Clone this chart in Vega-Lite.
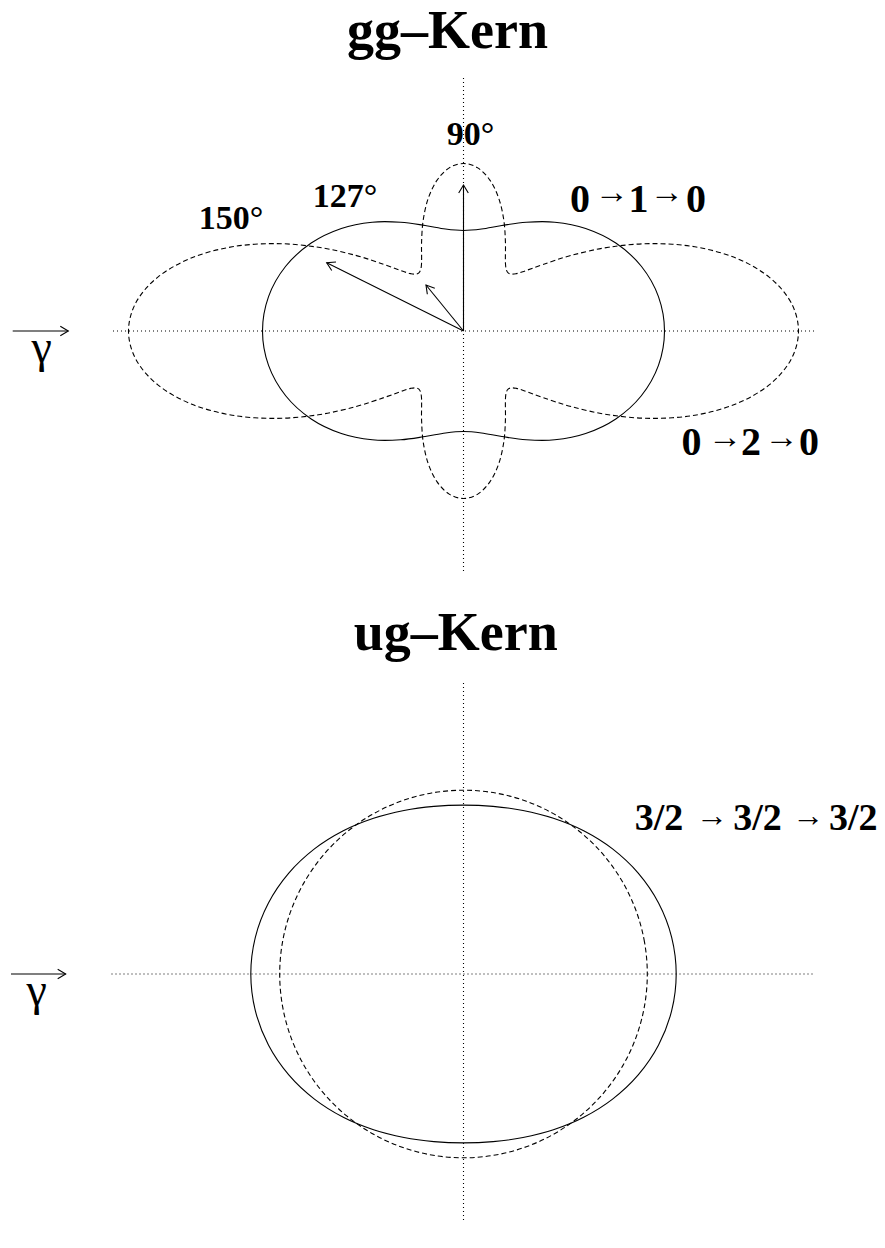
{
  "$schema": "https://vega.github.io/schema/vega-lite/v6.json",
  "background": "white",
  "padding": 0,
  "spacing": 0,
  "bounds": "flush",
  "config": {
    "view": {"stroke": null},
    "axis": {"disable": true},
    "text": {"font": "Liberation Serif", "color": "black"}
  },
  "datasets": {
    "gg_axes": [
      {"x0": -3.505, "y0": 0, "x": 3.52, "y": 0},
      {"x0": 0, "y0": 2.53, "x": 0, "y": -2.42}
    ],
    "ug_axes": [
      {"x0": -3.52, "y0": 0, "x": 3.51, "y": 0},
      {"x0": 0, "y0": 2.91, "x": 0, "y": -2.48}
    ],
    "gg_vec": [
      {"x0": 0, "y0": 0, "x": 0, "y": 1.46, "heading": 0},
      {"x0": 0, "y0": 0, "x": -1.368, "y": 0.683, "heading": 296.5},
      {"x0": 0, "y0": 0, "x": -0.375, "y": 0.46, "heading": 320.8},
      {"x0": -4.508, "y0": 0, "x": -3.952, "y": 0, "heading": 90}
    ],
    "ug_vec": [
      {"x0": -4.525, "y0": 0, "x": -3.978, "y": 0, "heading": 90}
    ],
    "gg_text": [
      {"t": "gg–Kern", "x": -0.16, "y": 2.83, "grp": "title"},
      {"t": "150°", "x": -2.325, "y": 1.017, "grp": "angle"},
      {"t": "127°", "x": -1.185, "y": 1.243, "grp": "angle"},
      {"t": "90°", "x": 0.07, "y": 1.86, "grp": "angle"},
      {"t": "0", "x": 1.165, "y": 1.193, "grp": "state"},
      {"t": "1", "x": 1.75, "y": 1.193, "grp": "state"},
      {"t": "0", "x": 2.325, "y": 1.193, "grp": "state"},
      {"t": "0", "x": 2.28, "y": -1.24, "grp": "state"},
      {"t": "2", "x": 2.875, "y": -1.24, "grp": "state"},
      {"t": "0", "x": 3.455, "y": -1.24, "grp": "state"},
      {"t": "→", "x": 1.482, "y": 1.38, "grp": "arrow"},
      {"t": "→", "x": 2.032, "y": 1.38, "grp": "arrow"},
      {"t": "→", "x": 2.615, "y": -1.07, "grp": "arrow"},
      {"t": "→", "x": 3.18, "y": -1.07, "grp": "arrow"},
      {"t": "γ", "x": -4.218, "y": -0.31, "grp": "gamma"}
    ],
    "ug_text": [
      {"t": "ug–Kern", "x": -0.077, "y": 3.24, "grp": "title"},
      {"t": "3/2", "x": 1.955, "y": 1.44, "grp": "state"},
      {"t": "3/2", "x": 2.94, "y": 1.44, "grp": "state"},
      {"t": "3/2", "x": 3.898, "y": 1.44, "grp": "state"},
      {"t": "→", "x": 2.482, "y": 1.58, "grp": "arrow"},
      {"t": "→", "x": 3.445, "y": 1.58, "grp": "arrow"},
      {"t": "γ", "x": -4.268, "y": -0.31, "grp": "gamma"}
    ],
    "gg_solid": [
      {"i": 0, "x": 2.010, "y": 0},
      {"i": 1, "x": 1.9496, "y": 0.3438},
      {"i": 2, "x": 1.7783, "y": 0.6472},
      {"i": 3, "x": 1.5231, "y": 0.8794},
      {"i": 4, "x": 1.2216, "y": 1.0251},
      {"i": 5, "x": 0.9129, "y": 1.0880},
      {"i": 6, "x": 0.6281, "y": 1.0880},
      {"i": 7, "x": 0.3839, "y": 1.0549},
      {"i": 8, "x": 0.1798, "y": 1.0196},
      {"i": 9, "x": 0, "y": 1.005},
      {"i": 10, "x": -0.1798, "y": 1.0196},
      {"i": 11, "x": -0.3839, "y": 1.0549},
      {"i": 12, "x": -0.6281, "y": 1.0880},
      {"i": 13, "x": -0.9129, "y": 1.0880},
      {"i": 14, "x": -1.2216, "y": 1.0251},
      {"i": 15, "x": -1.5231, "y": 0.8794},
      {"i": 16, "x": -1.7783, "y": 0.6472},
      {"i": 17, "x": -1.9496, "y": 0.3438},
      {"i": 18, "x": -2.010, "y": 0},
      {"i": 19, "x": -1.9496, "y": -0.3438},
      {"i": 20, "x": -1.7783, "y": -0.6472},
      {"i": 21, "x": -1.5231, "y": -0.8794},
      {"i": 22, "x": -1.2216, "y": -1.0251},
      {"i": 23, "x": -0.9129, "y": -1.0880},
      {"i": 24, "x": -0.6281, "y": -1.0880},
      {"i": 25, "x": -0.3839, "y": -1.0549},
      {"i": 26, "x": -0.1798, "y": -1.0196},
      {"i": 27, "x": 0, "y": -1.005},
      {"i": 28, "x": 0.1798, "y": -1.0196},
      {"i": 29, "x": 0.3839, "y": -1.0549},
      {"i": 30, "x": 0.6281, "y": -1.0880},
      {"i": 31, "x": 0.9129, "y": -1.0880},
      {"i": 32, "x": 1.2216, "y": -1.0251},
      {"i": 33, "x": 1.5231, "y": -0.8794},
      {"i": 34, "x": 1.7783, "y": -0.6472},
      {"i": 35, "x": 1.9496, "y": -0.3438}
    ],
    "gg_dashed": [
      {"i": 0, "x": 3.350, "y": 0},
      {"i": 1, "x": 3.2743, "y": 0.2865},
      {"i": 2, "x": 3.0565, "y": 0.5389},
      {"i": 3, "x": 2.7230, "y": 0.7296},
      {"i": 4, "x": 2.3134, "y": 0.8420},
      {"i": 5, "x": 1.8742, "y": 0.8740},
      {"i": 6, "x": 1.4506, "y": 0.8375},
      {"i": 7, "x": 1.0811, "y": 0.7570},
      {"i": 8, "x": 0.7916, "y": 0.6643},
      {"i": 9, "x": 0.5922, "y": 0.5922},
      {"i": 10, "x": 0.5251, "y": 0.5730},
      {"i": 11, "x": 0.4773, "y": 0.5689},
      {"i": 12, "x": 0.4462, "y": 0.5815},
      {"i": 13, "x": 0.4285, "y": 0.6119},
      {"i": 14, "x": 0.4206, "y": 0.6601},
      {"i": 15, "x": 0.4188, "y": 0.7253},
      {"i": 16, "x": 0.4189, "y": 0.8983},
      {"i": 17, "x": 0.4032, "y": 1.1077},
      {"i": 18, "x": 0.3542, "y": 1.3219},
      {"i": 19, "x": 0.2656, "y": 1.5064},
      {"i": 20, "x": 0.1427, "y": 1.6310},
      {"i": 21, "x": 0, "y": 1.675},
      {"i": 22, "x": -0.1427, "y": 1.6310},
      {"i": 23, "x": -0.2656, "y": 1.5064},
      {"i": 24, "x": -0.3542, "y": 1.3219},
      {"i": 25, "x": -0.4032, "y": 1.1077},
      {"i": 26, "x": -0.4189, "y": 0.8983},
      {"i": 27, "x": -0.4188, "y": 0.7253},
      {"i": 28, "x": -0.4206, "y": 0.6601},
      {"i": 29, "x": -0.4285, "y": 0.6119},
      {"i": 30, "x": -0.4462, "y": 0.5815},
      {"i": 31, "x": -0.4773, "y": 0.5689},
      {"i": 32, "x": -0.5251, "y": 0.5730},
      {"i": 33, "x": -0.5922, "y": 0.5922},
      {"i": 34, "x": -0.7916, "y": 0.6643},
      {"i": 35, "x": -1.0811, "y": 0.7570},
      {"i": 36, "x": -1.4506, "y": 0.8375},
      {"i": 37, "x": -1.8742, "y": 0.8740},
      {"i": 38, "x": -2.3134, "y": 0.8420},
      {"i": 39, "x": -2.7230, "y": 0.7296},
      {"i": 40, "x": -3.0565, "y": 0.5389},
      {"i": 41, "x": -3.2743, "y": 0.2865},
      {"i": 42, "x": -3.350, "y": 0},
      {"i": 43, "x": -3.2743, "y": -0.2865},
      {"i": 44, "x": -3.0565, "y": -0.5389},
      {"i": 45, "x": -2.7230, "y": -0.7296},
      {"i": 46, "x": -2.3134, "y": -0.8420},
      {"i": 47, "x": -1.8742, "y": -0.8740},
      {"i": 48, "x": -1.4506, "y": -0.8375},
      {"i": 49, "x": -1.0811, "y": -0.7570},
      {"i": 50, "x": -0.7916, "y": -0.6643},
      {"i": 51, "x": -0.5922, "y": -0.5922},
      {"i": 52, "x": -0.5251, "y": -0.5730},
      {"i": 53, "x": -0.4773, "y": -0.5689},
      {"i": 54, "x": -0.4462, "y": -0.5815},
      {"i": 55, "x": -0.4285, "y": -0.6119},
      {"i": 56, "x": -0.4206, "y": -0.6601},
      {"i": 57, "x": -0.4188, "y": -0.7253},
      {"i": 58, "x": -0.4189, "y": -0.8983},
      {"i": 59, "x": -0.4032, "y": -1.1077},
      {"i": 60, "x": -0.3542, "y": -1.3219},
      {"i": 61, "x": -0.2656, "y": -1.5064},
      {"i": 62, "x": -0.1427, "y": -1.6310},
      {"i": 63, "x": 0, "y": -1.675},
      {"i": 64, "x": 0.1427, "y": -1.6310},
      {"i": 65, "x": 0.2656, "y": -1.5064},
      {"i": 66, "x": 0.3542, "y": -1.3219},
      {"i": 67, "x": 0.4032, "y": -1.1077},
      {"i": 68, "x": 0.4189, "y": -0.8983},
      {"i": 69, "x": 0.4188, "y": -0.7253},
      {"i": 70, "x": 0.4206, "y": -0.6601},
      {"i": 71, "x": 0.4285, "y": -0.6119},
      {"i": 72, "x": 0.4462, "y": -0.5815},
      {"i": 73, "x": 0.4773, "y": -0.5689},
      {"i": 74, "x": 0.5251, "y": -0.5730},
      {"i": 75, "x": 0.5922, "y": -0.5922},
      {"i": 76, "x": 0.7916, "y": -0.6643},
      {"i": 77, "x": 1.0811, "y": -0.7570},
      {"i": 78, "x": 1.4506, "y": -0.8375},
      {"i": 79, "x": 1.8742, "y": -0.8740},
      {"i": 80, "x": 2.3134, "y": -0.8420},
      {"i": 81, "x": 2.7230, "y": -0.7296},
      {"i": 82, "x": 3.0565, "y": -0.5389},
      {"i": 83, "x": 3.2743, "y": -0.2865}
    ],
    "ug_solid": [
      {"i": 0, "x": 2.127, "y": 0},
      {"i": 1, "x": 2.0817, "y": 0.3671},
      {"i": 2, "x": 1.9506, "y": 0.7100},
      {"i": 3, "x": 1.7472, "y": 1.0088},
      {"i": 4, "x": 1.4907, "y": 1.2509},
      {"i": 5, "x": 1.2020, "y": 1.4325},
      {"i": 6, "x": 0.8993, "y": 1.5576},
      {"i": 7, "x": 0.5952, "y": 1.6353},
      {"i": 8, "x": 0.2956, "y": 1.6763},
      {"i": 9, "x": 0, "y": 1.689},
      {"i": 10, "x": -0.2956, "y": 1.6763},
      {"i": 11, "x": -0.5952, "y": 1.6353},
      {"i": 12, "x": -0.8993, "y": 1.5576},
      {"i": 13, "x": -1.2020, "y": 1.4325},
      {"i": 14, "x": -1.4907, "y": 1.2509},
      {"i": 15, "x": -1.7472, "y": 1.0088},
      {"i": 16, "x": -1.9506, "y": 0.7100},
      {"i": 17, "x": -2.0817, "y": 0.3671},
      {"i": 18, "x": -2.127, "y": 0},
      {"i": 19, "x": -2.0817, "y": -0.3671},
      {"i": 20, "x": -1.9506, "y": -0.7100},
      {"i": 21, "x": -1.7472, "y": -1.0088},
      {"i": 22, "x": -1.4907, "y": -1.2509},
      {"i": 23, "x": -1.2020, "y": -1.4325},
      {"i": 24, "x": -0.8993, "y": -1.5576},
      {"i": 25, "x": -0.5952, "y": -1.6353},
      {"i": 26, "x": -0.2956, "y": -1.6763},
      {"i": 27, "x": 0, "y": -1.689},
      {"i": 28, "x": 0.2956, "y": -1.6763},
      {"i": 29, "x": 0.5952, "y": -1.6353},
      {"i": 30, "x": 0.8993, "y": -1.5576},
      {"i": 31, "x": 1.2020, "y": -1.4325},
      {"i": 32, "x": 1.4907, "y": -1.2509},
      {"i": 33, "x": 1.7472, "y": -1.0088},
      {"i": 34, "x": 1.9506, "y": -0.7100},
      {"i": 35, "x": 2.0817, "y": -0.3671}
    ],
    "ug_dashed": [
      {"i": 0, "x": 1.838, "y": 0},
      {"i": 1, "x": 1.8101, "y": 0.3192},
      {"i": 2, "x": 1.7272, "y": 0.6286},
      {"i": 3, "x": 1.5918, "y": 0.9190},
      {"i": 4, "x": 1.4080, "y": 1.1815},
      {"i": 5, "x": 1.1815, "y": 1.4080},
      {"i": 6, "x": 0.9190, "y": 1.5918},
      {"i": 7, "x": 0.6286, "y": 1.7272},
      {"i": 8, "x": 0.3192, "y": 1.8101},
      {"i": 9, "x": 0, "y": 1.838},
      {"i": 10, "x": -0.3192, "y": 1.8101},
      {"i": 11, "x": -0.6286, "y": 1.7272},
      {"i": 12, "x": -0.9190, "y": 1.5918},
      {"i": 13, "x": -1.1815, "y": 1.4080},
      {"i": 14, "x": -1.4080, "y": 1.1815},
      {"i": 15, "x": -1.5918, "y": 0.9190},
      {"i": 16, "x": -1.7272, "y": 0.6286},
      {"i": 17, "x": -1.8101, "y": 0.3192},
      {"i": 18, "x": -1.838, "y": 0},
      {"i": 19, "x": -1.8101, "y": -0.3192},
      {"i": 20, "x": -1.7272, "y": -0.6286},
      {"i": 21, "x": -1.5918, "y": -0.9190},
      {"i": 22, "x": -1.4080, "y": -1.1815},
      {"i": 23, "x": -1.1815, "y": -1.4080},
      {"i": 24, "x": -0.9190, "y": -1.5918},
      {"i": 25, "x": -0.6286, "y": -1.7272},
      {"i": 26, "x": -0.3192, "y": -1.8101},
      {"i": 27, "x": 0, "y": -1.838},
      {"i": 28, "x": 0.3192, "y": -1.8101},
      {"i": 29, "x": 0.6286, "y": -1.7272},
      {"i": 30, "x": 0.9190, "y": -1.5918},
      {"i": 31, "x": 1.1815, "y": -1.4080},
      {"i": 32, "x": 1.4080, "y": -1.1815},
      {"i": 33, "x": 1.5918, "y": -0.9190},
      {"i": 34, "x": 1.7272, "y": -0.6286},
      {"i": 35, "x": 1.8101, "y": -0.3192}
    ]
  },
  "resolve": {"scale": {"x": "independent", "y": "independent"}},
  "vconcat": [
    {
      "width": 885,
      "height": 600,
      "encoding": {
        "x": {"field": "x", "type": "quantitative", "scale": {"domain": [-4.635, 4.215], "nice": false, "zero": false}, "axis": null},
        "y": {"field": "y", "type": "quantitative", "scale": {"domain": [-2.69, 3.31], "nice": false, "zero": false}, "axis": null}
      },
      "layer": [
        {
          "data": {"name": "gg_axes"},
          "mark": {"type": "rule", "color": "black", "strokeWidth": 1.1, "strokeDash": [1, 3]},
          "encoding": {
            "x": {"field": "x0", "type": "quantitative", "axis": null},
            "y": {"field": "y0", "type": "quantitative", "axis": null},
            "x2": {"field": "x"},
            "y2": {"field": "y"}
          }
        },
        {
          "data": {"name": "gg_dashed"},
          "mark": {"type": "line", "interpolate": "cardinal-closed", "color": "black", "strokeWidth": 1.1, "strokeDash": [5, 3]},
          "encoding": {"order": {"field": "i", "type": "quantitative"}}
        },
        {
          "data": {"name": "gg_solid"},
          "mark": {"type": "line", "interpolate": "cardinal-closed", "color": "black", "strokeWidth": 1.1},
          "encoding": {"order": {"field": "i", "type": "quantitative"}}
        },
        {
          "data": {"name": "gg_vec"},
          "mark": {"type": "rule", "color": "black", "strokeWidth": 1.1},
          "encoding": {
            "x": {"field": "x0", "type": "quantitative", "axis": null},
            "y": {"field": "y0", "type": "quantitative", "axis": null},
            "x2": {"field": "x"},
            "y2": {"field": "y"}
          }
        },
        {
          "data": {"name": "gg_vec"},
          "mark": {"type": "point", "shape": "M -0.6 1 L 0 0 L 0.6 1", "filled": false, "size": 256, "color": "black", "strokeWidth": 1.1, "opacity": 1},
          "encoding": {"angle": {"field": "heading", "type": "quantitative", "scale": null}}
        },
        {
          "data": {"name": "gg_text"},
          "transform": [{"filter": "datum.grp === 'title'"}],
          "mark": {"type": "text", "fontSize": 54, "fontWeight": "bold", "align": "center", "baseline": "alphabetic"},
          "encoding": {"text": {"field": "t"}}
        },
        {
          "data": {"name": "gg_text"},
          "transform": [{"filter": "datum.grp === 'angle'"}],
          "mark": {"type": "text", "fontSize": 34, "fontWeight": "bold", "align": "center", "baseline": "alphabetic"},
          "encoding": {"text": {"field": "t"}}
        },
        {
          "data": {"name": "gg_text"},
          "transform": [{"filter": "datum.grp === 'state'"}],
          "mark": {"type": "text", "fontSize": 40, "fontWeight": "bold", "align": "center", "baseline": "alphabetic"},
          "encoding": {"text": {"field": "t"}}
        },
        {
          "data": {"name": "gg_text"},
          "transform": [{"filter": "datum.grp === 'arrow'"}],
          "mark": {"type": "text", "fontSize": 34, "fontWeight": "bold", "align": "center", "baseline": "middle"},
          "encoding": {"text": {"field": "t"}}
        },
        {
          "data": {"name": "gg_text"},
          "transform": [{"filter": "datum.grp === 'gamma'"}],
          "mark": {"type": "text", "fontSize": 46, "align": "center", "baseline": "alphabetic"},
          "encoding": {"text": {"field": "t"}}
        }
      ]
    },
    {
      "width": 885,
      "height": 648,
      "encoding": {
        "x": {"field": "x", "type": "quantitative", "scale": {"domain": [-4.635, 4.215], "nice": false, "zero": false}, "axis": null},
        "y": {"field": "y", "type": "quantitative", "scale": {"domain": [-2.74, 3.74], "nice": false, "zero": false}, "axis": null}
      },
      "layer": [
        {
          "data": {"name": "ug_axes"},
          "mark": {"type": "rule", "color": "black", "strokeWidth": 1.1, "strokeDash": [1, 3]},
          "encoding": {
            "x": {"field": "x0", "type": "quantitative", "axis": null},
            "y": {"field": "y0", "type": "quantitative", "axis": null},
            "x2": {"field": "x"},
            "y2": {"field": "y"}
          }
        },
        {
          "data": {"name": "ug_dashed"},
          "mark": {"type": "line", "interpolate": "cardinal-closed", "color": "black", "strokeWidth": 1.1, "strokeDash": [5, 3]},
          "encoding": {"order": {"field": "i", "type": "quantitative"}}
        },
        {
          "data": {"name": "ug_solid"},
          "mark": {"type": "line", "interpolate": "cardinal-closed", "color": "black", "strokeWidth": 1.1},
          "encoding": {"order": {"field": "i", "type": "quantitative"}}
        },
        {
          "data": {"name": "ug_vec"},
          "mark": {"type": "rule", "color": "black", "strokeWidth": 1.1},
          "encoding": {
            "x": {"field": "x0", "type": "quantitative", "axis": null},
            "y": {"field": "y0", "type": "quantitative", "axis": null},
            "x2": {"field": "x"},
            "y2": {"field": "y"}
          }
        },
        {
          "data": {"name": "ug_vec"},
          "mark": {"type": "point", "shape": "M -0.6 1 L 0 0 L 0.6 1", "filled": false, "size": 256, "color": "black", "strokeWidth": 1.1, "opacity": 1},
          "encoding": {"angle": {"field": "heading", "type": "quantitative", "scale": null}}
        },
        {
          "data": {"name": "ug_text"},
          "transform": [{"filter": "datum.grp === 'title'"}],
          "mark": {"type": "text", "fontSize": 54, "fontWeight": "bold", "align": "center", "baseline": "alphabetic"},
          "encoding": {"text": {"field": "t"}}
        },
        {
          "data": {"name": "ug_text"},
          "transform": [{"filter": "datum.grp === 'state'"}],
          "mark": {"type": "text", "fontSize": 38, "fontWeight": "bold", "align": "center", "baseline": "alphabetic"},
          "encoding": {"text": {"field": "t"}}
        },
        {
          "data": {"name": "ug_text"},
          "transform": [{"filter": "datum.grp === 'arrow'"}],
          "mark": {"type": "text", "fontSize": 32, "fontWeight": "bold", "align": "center", "baseline": "middle"},
          "encoding": {"text": {"field": "t"}}
        },
        {
          "data": {"name": "ug_text"},
          "transform": [{"filter": "datum.grp === 'gamma'"}],
          "mark": {"type": "text", "fontSize": 46, "align": "center", "baseline": "alphabetic"},
          "encoding": {"text": {"field": "t"}}
        }
      ]
    }
  ]
}
